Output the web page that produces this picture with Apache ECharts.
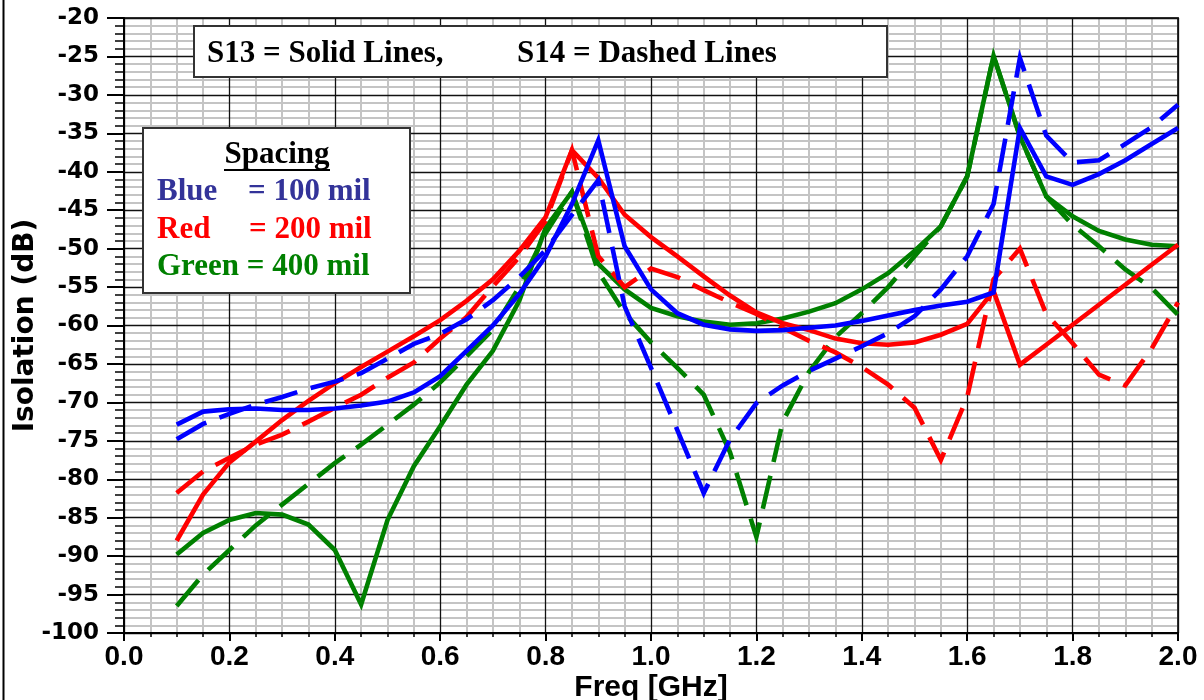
<!DOCTYPE html>
<html>
<head>
<meta charset="utf-8">
<script src="https://cdn.jsdelivr.net/npm/echarts@6/dist/echarts.min.js"></script>
<style>
html,body{margin:0;padding:0;background:#fff;}
#chart{width:1204px;height:700px;}
</style>
</head>
<body>
<div id="chart"></div>
<script>
// Frequency points (GHz)
const freq = [0.10,0.15,0.20,0.25,0.30,0.35,0.40,0.45,0.50,0.55,0.60,0.65,0.70,0.75,0.80,0.85,0.90,0.95,1.00,1.05,1.10,1.15,1.20,1.25,1.30,1.35,1.40,1.45,1.50,1.55,1.60,1.65,1.70,1.75,1.80,1.85,1.90,1.95,2.00];

// S13 (solid) and S14 (dashed), 100 / 200 / 400 mil spacing, dB
const s13_100 = [-72.9,-71.2,-70.9,-70.8,-71.0,-71.0,-70.8,-70.4,-69.9,-68.7,-66.6,-63.3,-60.0,-55.9,-51.0,-44.2,-35.9,-49.7,-55.3,-58.4,-59.9,-60.5,-60.7,-60.6,-60.3,-60.0,-59.4,-58.7,-58.0,-57.4,-56.9,-55.7,-34.3,-40.6,-41.7,-40.3,-38.5,-36.4,-34.3];
const s14_100 = [-74.8,-72.8,-71.5,-70.3,-69.3,-68.2,-67.3,-66.2,-64.3,-62.4,-61.1,-59.2,-56.7,-53.7,-50.2,-45.6,-41.1,-57.5,-65.5,-73.6,-81.8,-74.8,-70.1,-67.8,-65.9,-64.3,-62.7,-61.0,-58.8,-55.3,-51.0,-44.2,-25.2,-35.3,-38.8,-38.5,-36.4,-34.2,-31.3];
const s13_200 = [-88.0,-82.0,-77.8,-75.1,-72.3,-69.8,-67.5,-65.4,-63.4,-61.4,-59.3,-56.8,-54.0,-50.3,-45.9,-37.2,-40.8,-45.6,-48.5,-51.0,-53.6,-56.1,-58.3,-59.7,-60.6,-61.7,-62.3,-62.5,-62.2,-61.2,-59.8,-55.5,-65.1,-62.5,-59.9,-57.3,-54.7,-52.1,-49.5];
const s14_200 = [-81.8,-79.0,-77.2,-75.5,-74.2,-72.5,-70.7,-69.0,-66.8,-64.8,-61.7,-58.9,-54.9,-51.1,-46.4,-37.2,-51.0,-55.0,-52.6,-53.7,-55.4,-57.0,-58.5,-60.3,-62.0,-63.5,-65.4,-67.7,-70.7,-77.5,-69.3,-54.0,-50.0,-58.5,-62.3,-66.4,-67.8,-63.0,-57.0];
const s13_400 = [-89.8,-87.0,-85.3,-84.4,-84.6,-85.9,-89.2,-96.3,-85.3,-78.3,-73.1,-67.7,-63.3,-56.8,-47.3,-42.6,-52.0,-55.3,-57.7,-58.8,-59.5,-59.9,-59.7,-59.1,-58.2,-57.1,-55.3,-53.2,-50.3,-47.1,-40.6,-24.9,-35.4,-43.2,-45.8,-47.7,-48.8,-49.5,-49.7];
const s14_400 = [-96.5,-92.4,-89.2,-86.0,-83.3,-80.6,-77.9,-75.5,-72.9,-70.3,-67.4,-64.0,-60.5,-55.0,-48.0,-42.6,-53.0,-58.4,-62.2,-65.5,-69.0,-76.5,-87.5,-72.5,-66.0,-61.5,-58.4,-55.0,-51.0,-47.1,-40.6,-24.9,-35.4,-43.2,-46.9,-49.7,-52.7,-55.1,-58.6];

// Axis settings
const xTicks = {min: 0, max: 2, interval: 0.2};
const yTicks = {min: -100, max: -20, interval: 5};

const titleText1 = 'S13 = Solid Lines,';
const titleText2 = 'S14 = Dashed Lines';
const legendHead = 'Spacing';

function pairs(vals){ return freq.map((f,i)=>[f, vals[i]]); }

const dash = [34, 14];
function mk(name, vals, color, dashed){
  return {
    name: name, type: 'line', data: pairs(vals), showSymbol: false, symbol: 'none',
    xAxisIndex: 0, yAxisIndex: 0, animation: false, z: 3,
    lineStyle: {color: color, width: 4.6, type: dashed ? dash : 'solid', cap: 'butt', join: 'miter'}
  };
}

const chart = echarts.init(document.getElementById('chart'), null, {renderer: 'canvas'});
const serif = '"Liberation Serif", "Times New Roman", serif';
const option = {
  backgroundColor: '#fff',
  animation: false,
  grid: {left: 124, top: 18, right: 26, bottom: 67, show: false, containLabel: false, outerBoundsMode: 'none'},
  xAxis: [
    {
      type: 'value', min: xTicks.min, max: xTicks.max, interval: xTicks.interval, z: 2,
      axisLine: {show: true, onZero: false, lineStyle: {color: '#000', width: 2}},
      axisTick: {show: true, length: 8, lineStyle: {color: '#000', width: 2}},
      minorTick: {show: true, splitNumber: 4, length: 4, lineStyle: {color: '#000', width: 1.5}},
      splitLine: {show: true, lineStyle: {color: '#111', width: 1.3}},
      minorSplitLine: {show: false},
      axisLabel: {formatter: v => v.toFixed(1), fontFamily: '"Liberation Sans", Arial, sans-serif', fontWeight: 'bold', fontSize: 28, color: '#000', margin: 10},
      name: 'Freq [GHz]', nameLocation: 'middle', nameGap: 40, nameMoveOverlap: false,
      nameTextStyle: {fontFamily: '"Liberation Sans", Arial, sans-serif', fontWeight: 'bold', fontSize: 30, color: '#000'}
    },
    {
      type: 'value', min: xTicks.min, max: xTicks.max, interval: xTicks.interval, position: 'top', z: 1,
      axisLine: {show: true, onZero: false, lineStyle: {color: '#333', width: 2}},
      axisTick: {show: false}, axisLabel: {show: false},
      splitLine: {show: false},
      minorTick: {show: false, splitNumber: 4},
      minorSplitLine: {show: true, lineStyle: {color: '#c4c4c4', width: 2}}
    }
  ],
  yAxis: [
    {
      type: 'value', min: yTicks.min, max: yTicks.max, interval: yTicks.interval, z: 2,
      axisLine: {show: true, onZero: false, lineStyle: {color: '#000', width: 2}},
      axisTick: {show: true, length: 17, lineStyle: {color: '#000', width: 2}},
      minorTick: {show: true, splitNumber: 5, length: 9, lineStyle: {color: '#000', width: 1.5}},
      splitLine: {show: true, lineStyle: {color: '#111', width: 1.3}},
      minorSplitLine: {show: false},
      axisLabel: {fontFamily: '"DejaVu Sans", sans-serif', fontWeight: 'bold', fontSize: 23, color: '#000', margin: 25},
      name: 'Isolation (dB)', nameLocation: 'middle', nameRotate: 90, nameGap: 84, nameMoveOverlap: false,
      nameTextStyle: {fontFamily: '"DejaVu Sans", sans-serif', fontWeight: 'bold', fontSize: 28, color: '#000'}
    },
    {
      type: 'value', min: yTicks.min, max: yTicks.max, interval: yTicks.interval, position: 'right', z: 1,
      axisLine: {show: true, onZero: false, lineStyle: {color: '#333', width: 2}},
      axisTick: {show: false}, axisLabel: {show: false},
      splitLine: {show: false},
      minorTick: {show: false, splitNumber: 5},
      minorSplitLine: {show: true, lineStyle: {color: '#c4c4c4', width: 2}}
    }
  ],
  series: [
    mk('S13 400 mil', s13_400, '#008000', false),
    mk('S14 400 mil', s14_400, '#008000', true),
    mk('S13 200 mil', s13_200, '#ff0000', false),
    mk('S14 200 mil', s14_200, '#ff0000', true),
    mk('S13 100 mil', s13_100, '#0000ff', false),
    mk('S14 100 mil', s14_100, '#0000ff', true),
    // carrier for the secondary (grid-only) axes
    {type: 'line', data: [], xAxisIndex: 1, yAxisIndex: 1, showSymbol: false}
  ],
  graphic: [
    {type: 'line', z: 100, shape: {x1: 3.5, y1: 0, x2: 3.5, y2: 700}, style: {stroke: '#000', lineWidth: 2}},
    {type: 'rect', z: 100, shape: {x: 194, y: 26, width: 693, height: 51}, style: {fill: '#fff', stroke: '#333', lineWidth: 2}},
    {type: 'text', z: 101, x: 207, y: 54, style: {text: titleText1, font: 'bold 31px ' + serif, fill: '#000', verticalAlign: 'middle'}},
    {type: 'text', z: 101, x: 517, y: 54, style: {text: titleText2, font: 'bold 31px ' + serif, fill: '#000', verticalAlign: 'middle'}},
    {type: 'rect', z: 100, shape: {x: 143, y: 128, width: 267, height: 165}, style: {fill: '#fff', stroke: '#333', lineWidth: 2}},
    {type: 'text', z: 101, x: 277, y: 155, style: {text: legendHead, font: 'bold 31px ' + serif, fill: '#000', align: 'center', verticalAlign: 'middle'}},
    {type: 'line', z: 101, shape: {x1: 224, y1: 170, x2: 330, y2: 170}, style: {stroke: '#000', lineWidth: 2}},
    {type: 'text', z: 101, x: 157, y: 192, style: {text: 'Blue', font: 'bold 31px ' + serif, fill: '#333399', verticalAlign: 'middle'}},
    {type: 'text', z: 101, x: 248, y: 192, style: {text: '= 100 mil', font: 'bold 31px ' + serif, fill: '#333399', verticalAlign: 'middle'}},
    {type: 'text', z: 101, x: 157, y: 230, style: {text: 'Red', font: 'bold 31px ' + serif, fill: '#ff0000', verticalAlign: 'middle'}},
    {type: 'text', z: 101, x: 249, y: 230, style: {text: '= 200 mil', font: 'bold 31px ' + serif, fill: '#ff0000', verticalAlign: 'middle'}},
    {type: 'text', z: 101, x: 157, y: 267, style: {text: 'Green = 400 mil', font: 'bold 31px ' + serif, fill: '#008000', verticalAlign: 'middle'}}
  ]
};
chart.setOption(option);
</script>
</body>
</html>
